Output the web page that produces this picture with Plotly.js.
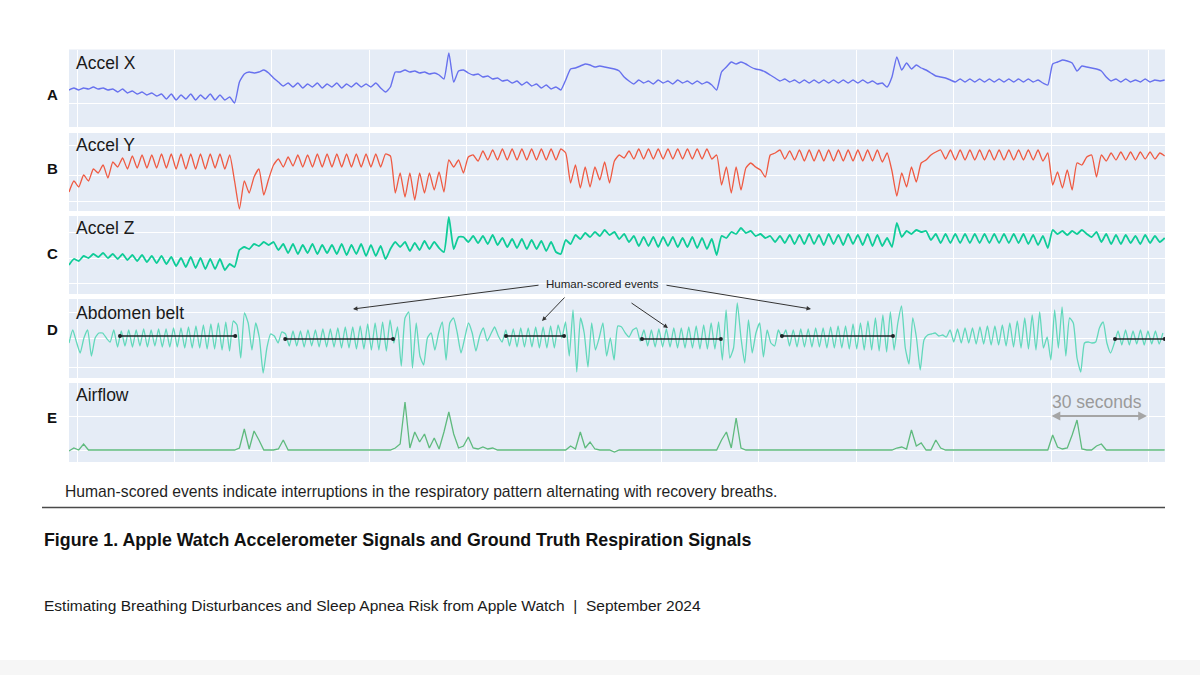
<!DOCTYPE html>
<html>
<head>
<meta charset="utf-8">
<script src="https://cdn.plot.ly/plotly-3.0.1.min.js"></script>
<style>
html,body{margin:0;padding:0;background:#fff;}
#chart{width:1200px;height:675px;}
</style>
</head>
<body>
<div id="chart"></div>
<script>
// ---------------- DATA ----------------
// time axis in seconds; grid lines every 30 s
const gridTicks = [0, 30, 60, 90, 120, 150, 180, 210, 240, 270, 300, 330];
const accelStart = -2.5, accelStep = 1.5;   // sample times for Accel X/Y/Z and Airflow
const beltStart = -2.5, beltStep = 1.15;    // sample times for Abdomen belt

const panelLabels = ["A", "B", "C", "D", "E"];
const panelNames = ["Accel X", "Accel Y", "Accel Z", "Abdomen belt", "Airflow"];

const accelX = [
37,39,37,39,38,40,38,39,37,38,
35,38,34,36,33,35,32,34,31,33,
28,33,27,32,28,33,27,32,28,33,
27,32,27,30,
24,
45,53,55,54,55,57,54,49,45,41,
44,40,44,39,43,40,44,39,43,40,44,39,43,40,44,40,
43,40,44,39,35,40,
55,55,57,55,56,54,55,53,54,52,48,74,45,
56,57,54,52,53,50,51,48,49,46,
47,44,46,42,45,41,43,
39,42,38,40,37,
47,58,59,61,63,62,60,61,60,59,58,56,50,46,
43,47,44,46,43,47,44,46,43,47,44,46,43,
46,43,45,42,37,
55,60,65,63,65,63,60,58,57,55,52,49,46,48,45,47,
44,47,44,47,44,47,44,47,44,47,44,47,44,47,44,46,
43,44,40,50,70,57,64,58,62,59,57,54,51,50,49,
47,45,48,45,48,45,48,45,48,45,48,45,48,45,48,45,48,
45,47,44,42,63,65,67,66,64,56,61,60,59,58,56,50,46,
48,45,48,45,47,45,48,45,47,46,47
];

const accelY = [
19,30,24,36,30,42,38,46,33,49,
44,53,42,55,43,56,43,56,43,57,
43,57,42,57,42,57,42,57,42,57,
43,57,42,56,
30,2,30,18,34,42,16,32,46,52,44,54,45,56,44,56,
44,57,44,57,44,57,44,57,44,57,44,57,44,57,
44,57,55,
18,38,14,38,11,38,18,38,21,39,19,51,44,51,38,54,56,50,60,51,61,51,62,
51,62,51,62,51,62,51,62,51,62,51,
62,58,28,46,23,44,24,44,31,49,28,50,56,53,60,
52,62,52,62,52,62,52,62,52,62,52,62,52,62,52,62,
52,56,26,44,18,44,21,43,48,44,41,34,56,58,61,52,60,51,
61,50,61,50,61,50,61,50,61,50,61,50,61,50,61,50,
61,49,58,40,15,38,24,44,29,48,51,56,59,61,52,
61,51,61,51,61,51,61,51,61,51,61,51,61,51,61,51,61,51,61,
50,58,26,39,23,41,21,48,46,54,56,34,56,50,58,
51,59,51,59,51,59,52,59,52,58,55
];

const accelZ = [
29,35,33,38,36,40,37,41,36,40,
35,40,34,39,33,39,32,38,31,38,
30,37,28,36,27,37,26,36,25,35,
25,35,24,30,
27,44,47,45,50,48,52,49,52,44,50,
41,50,40,49,41,50,40,49,41,49,40,50,39,49,40,50,
38,49,38,48,35,45,
52,47,52,43,51,44,53,45,52,46,42,77,45,
57,57,52,58,51,58,50,59,49,56,
47,55,46,55,45,54,45,53,43,
52,42,40,54,50,59,55,61,57,62,58,64,59,62,55,60,52,
58,48,57,48,57,47,57,48,57,47,56,47,57,46,56,45,
55,39,58,56,62,60,66,61,63,58,60,56,58,52,58,51,59,50,
59,50,60,50,59,49,60,50,59,49,60,50,59,49,60,48,
59,48,56,47,71,57,63,60,64,62,63,54,60,51,60,
51,60,51,60,51,60,51,60,51,60,51,60,51,60,51,60,50,59,49,
58,46,64,60,63,59,63,60,64,60,57,62,52,60,50,
59,50,59,51,58,50,59,51,58,52,56
];

const abdomenBelt = [
35,48,36,25,40,48,22,40,45,45,40,36,48,31,
47,32,48,31,48,32,49,31,48,32,49,31,49,31,50,31,50,30,51,30,52,30,53,29,54,29,55,28,56,27,57,
53,20,65,55,28,55,40,5,30,44,42,35,46,44,
32,47,32,47,31,48,32,48,31,49,31,49,31,50,30,51,30,51,29,52,29,54,28,55,28,56,27,58,
35,51,12,60,66,10,55,22,13,40,45,28,45,56,18,55,60,45,25,40,55,45,27,42,50,37,44,51,42,36,48,
32,49,31,50,31,50,31,51,30,51,30,52,30,53,
40,56,22,68,6,60,45,11,55,28,40,55,22,40,18,52,51,45,41,48,50,37,
48,32,48,31,49,31,49,31,50,30,50,30,51,30,52,29,53,29,55,29,56,
18,68,20,30,75,40,15,58,25,45,55,21,48,35,32,48,40,
48,32,48,31,49,31,49,31,50,31,50,30,51,30,52,30,52,29,54,29,55,28,57,28,60,27,63,26,66,
28,55,72,30,14,60,40,8,38,43,44,45,42,43,41,
48,36,49,35,50,35,50,34,51,34,52,33,52,33,53,32,55,31,57,30,60,29,63,28,66,
30,41,18,68,30,71,22,60,55,20,6,35,36,35,36,50,56,35,25,35,
47,33,48,33,47,34,48,33,47,34,47,34,45
];

const airflow = [
11,14,12,18,12,
12,12,12,12,12,12,12,12,12,12,12,12,12,12,12,12,12,12,12,12,12,12,12,12,12,12,12,12,12,12,
14,33,13,31,22,12,12,12,13,22,
12,12,12,12,12,12,12,12,12,12,12,12,12,12,12,12,12,12,12,12,12,12,
14,18,60,14,30,20,28,14,24,13,30,50,28,14,16,25,14,13,15,13,14,12,
12,12,12,12,12,12,12,12,12,12,12,12,12,12,
16,13,30,14,20,13,12,12,12,10,
12,12,12,12,12,12,12,12,12,12,12,12,12,12,12,12,12,12,12,12,12,
22,30,14,44,14,12,
12,12,12,12,12,12,12,12,12,12,12,12,12,12,12,12,12,12,12,12,12,12,12,12,12,12,12,12,12,12,
14,15,13,32,16,19,12,12,22,14,
12,12,12,12,12,12,12,12,12,12,12,12,12,12,12,12,12,12,12,12,12,12,
27,15,13,14,27,42,13,12,12,16,18,12,
12,12,12,12,12,12,12,12,12,12,12,12
];

// human-scored events (seconds) on the abdomen belt panel
const eventStart = [13.2, 64.1, 132.1, 174.0, 217.1, 319.7];
const eventEnd   = [48.7, 97.3, 150.0, 198.3, 251.3, 335.0];
const eventLevel = [42, 39, 42, 39, 42, 39];

const eventLabel = "Human-scored events";
const scaleLabel = "30 seconds";
const captionText = "Human-scored events indicate interruptions in the respiratory pattern alternating with recovery breaths.";
const figureTitle = "Figure 1. Apple Watch Accelerometer Signals and Ground Truth Respiration Signals";
const footerText = "Estimating Breathing Disturbances and Sleep Apnea Risk from Apple Watch&nbsp;&nbsp;|&nbsp;&nbsp;September 2024";

// ---------------- LAYOUT HELPERS ----------------
const W = 1200, H = 675;
const fx = p => p / W;
const fy = p => 1 - p / H;
const FONT = "Liberation Sans, Arial, Helvetica, sans-serif";

const times = (n, start, step) => Array.from({length: n}, (_, i) => +(start + i * step).toFixed(3));

// panels: pixel top / bottom
const panels = [
  {top: 49.5, bot: 127, grid: [24]},
  {top: 133, bot: 211, grid: [10, 36, 66]},
  {top: 216, bot: 294, grid: [11, 36, 62]},
  {top: 299, bot: 378, grid: [11, 40, 66]},
  {top: 383, bot: 462, grid: [12, 46]}
];
const series = [accelX, accelY, accelZ, abdomenBelt, airflow];
const colors = ["#6771ee", "#ef5a42", "#0fcc98", "#62d8bb", "#5fba7e"];
const widths = [1.4, 1.3, 1.8, 1.3, 1.3];
const shapes = ["spline", "spline", "spline", "spline", "linear"];

const traces = [];
series.forEach((ys, k) => {
  const isBelt = (k === 3);
  const xs = isBelt ? times(ys.length, beltStart, beltStep) : times(ys.length, accelStart, accelStep);
  traces.push({
    type: "scatter", mode: "lines", x: xs, y: ys,
    xaxis: k === 0 ? "x" : "x" + (k + 1), yaxis: k === 0 ? "y" : "y" + (k + 1),
    line: {color: colors[k], width: widths[k], shape: shapes[k], smoothing: 0.5},
    hoverinfo: "skip", showlegend: false
  });
});

// event bars
const evX = [], evY = [];
eventStart.forEach((s, i) => { evX.push(s, eventEnd[i], null); evY.push(eventLevel[i], eventLevel[i], null); });
traces.push({
  type: "scatter", mode: "lines+markers", x: evX, y: evY, xaxis: "x4", yaxis: "y4",
  line: {color: "#1e2326", width: 1.6}, marker: {color: "#1e2326", size: 4},
  hoverinfo: "skip", showlegend: false
});

const layout = {
  width: W, height: H,
  margin: {l: 0, r: 0, t: 0, b: 0, pad: 0},
  paper_bgcolor: "#ffffff",
  plot_bgcolor: "#e5ecf6",
  showlegend: false,
  font: {family: FONT, color: "#1a1a1a"},
  annotations: [],
  shapes: []
};

panels.forEach((p, k) => {
  const sx = k === 0 ? "" : String(k + 1);
  layout["xaxis" + sx] = {
    domain: [fx(69), fx(1165)], range: [-2.5, 335.1],
    anchor: "y" + sx, tickvals: gridTicks, showticklabels: false,
    ticks: "", showgrid: true, gridcolor: "#ffffff", gridwidth: 1,
    zeroline: false, showline: false, fixedrange: true
  };
  layout["yaxis" + sx] = {
    domain: [fy(p.bot), fy(p.top)], range: [0, p.bot - p.top],
    anchor: "x" + sx, tickvals: p.grid, showticklabels: false,
    ticks: "", showgrid: true, gridcolor: "#ffffff", gridwidth: 1,
    zeroline: false, showline: false, fixedrange: true
  };
});

function txt(text, x, y, size, opts) {
  layout.annotations.push(Object.assign({
    text: text, xref: "paper", yref: "paper", x: fx(x), y: fy(y),
    xanchor: "left", yanchor: "middle", showarrow: false,
    font: {family: FONT, size: size, color: "#1a1a1a"}
  }, opts || {}));
}

// panel letters and names
const letterY = [95, 168, 253, 329, 417];
const nameY = [63, 145, 228, 313, 395];
panelLabels.forEach((L, k) => {
  txt("<b>" + L + "</b>", 52, letterY[k], 15, {xanchor: "center", font: {family: FONT, size: 15, color: "#111"}});
  txt(panelNames[k], 74, nameY[k], 17.5);
});

// human-scored events label and arrows
txt(eventLabel, 602, 284, 11.5, {xanchor: "center", font: {family: FONT, size: 11.5, color: "#222"}});
const arrows = [
  {hx: 353, hy: 309, tx: 540, ty: 285},
  {hx: 542, hy: 321, tx: 566, ty: 296},
  {hx: 668, hy: 328, tx: 630, ty: 302},
  {hx: 811, hy: 309, tx: 665, ty: 285}
];
arrows.forEach(a => {
  layout.annotations.push({
    text: "", xref: "paper", yref: "paper", x: fx(a.hx), y: fy(a.hy),
    ax: a.tx - a.hx, ay: a.ty - a.hy, showarrow: true,
    arrowhead: 2, arrowsize: 0.9, arrowwidth: 1, arrowcolor: "#333", standoff: 0, startstandoff: 0
  });
});

// 30 seconds scale
txt(scaleLabel, 1097, 402, 17.5, {xanchor: "center", font: {family: FONT, size: 17.5, color: "#9a9a9a"}});
layout.annotations.push({
  text: "", xref: "paper", yref: "paper", x: fx(1147), y: fy(416),
  ax: -97, ay: 0, showarrow: true, arrowside: "end+start",
  arrowhead: 2, arrowsize: 0.8, arrowwidth: 2.2, arrowcolor: "#a5a5a5", standoff: 0, startstandoff: 0
});

// caption, rule, title, footer
txt(captionText, 63, 491, 15.7, {font: {family: FONT, size: 15.7, color: "#1f1f1f"}});
layout.shapes.push({type: "line", xref: "paper", yref: "paper", x0: fx(42), x1: fx(1165), y0: fy(507.5), y1: fy(507.5),
  line: {color: "#4a4a4a", width: 1.5}});
txt("<b>" + figureTitle + "</b>", 42, 540, 17.8, {font: {family: FONT, size: 17.8, color: "#111"}});
txt(footerText, 42, 605, 15.5, {font: {family: FONT, size: 15.5, color: "#1a1a1a"}});

// faint shade at the very bottom of the page
layout.shapes.push({type: "rect", xref: "paper", yref: "paper", x0: 0, x1: 1, y0: 0, y1: fy(660),
  fillcolor: "#f6f6f6", line: {width: 0}, layer: "below"});

Plotly.newPlot("chart", traces, layout, {staticPlot: true, displayModeBar: false});
</script>
</body>
</html>
